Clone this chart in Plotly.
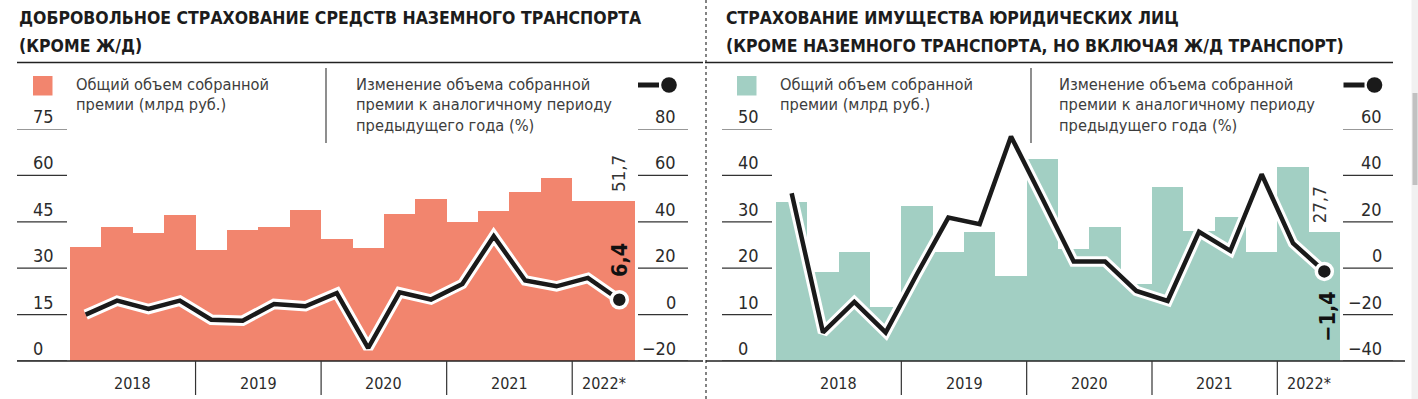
import plotly.graph_objects as go

# ---------------- data ----------------
years = ["2018", "2019", "2020", "2021", "2022*"]
quarters_per_year = [4, 4, 4, 4, 2]

# Left panel: voluntary insurance of ground transport (excl. railway)
ground_premium = [37.0, 43.4, 41.4, 47.3, 35.9, 42.4, 43.4, 48.9, 39.5, 36.4,
                  47.6, 52.4, 44.8, 48.6, 54.7, 59.2, 51.8, 51.7]
ground_change = [0.0, 6.0, 2.4, 6.0, -2.2, -2.6, 4.6, 3.6, 9.3, -14.4,
                 9.6, 6.5, 13.2, 33.8, 14.7, 12.2, 15.8, 6.4]

# Right panel: property insurance of legal entities
property_premium = [34.3, 19.2, 23.5, 11.6, 33.4, 23.5, 27.8, 18.4, 43.5, 24.1,
                    28.9, 16.7, 37.5, 28.0, 31.0, 23.5, 41.8, 27.7]
property_change = [32.3, -27.7, -14.5, -27.7, -2.5, 21.8, 19.0, 56.8, 30.0, 2.9,
                   2.9, -9.8, -14.1, 15.7, 7.5, 40.5, 10.8, -1.4]

left_ticks_bar = [0, 15, 30, 45, 60, 75]
left_ticks_line = [-20, 0, 20, 40, 60, 80]
right_ticks_bar = [0, 10, 20, 30, 40, 50]
right_ticks_line = [-40, -20, 0, 20, 40, 60]

title_left = ["ДОБРОВОЛЬНОЕ СТРАХОВАНИЕ СРЕДСТВ НАЗЕМНОГО ТРАНСПОРТА", "(КРОМЕ Ж/Д)"]
title_right = ["СТРАХОВАНИЕ ИМУЩЕСТВА ЮРИДИЧЕСКИХ ЛИЦ",
               "(КРОМЕ НАЗЕМНОГО ТРАНСПОРТА, НО ВКЛЮЧАЯ Ж/Д ТРАНСПОРТ)"]
legend_bar = ["Общий объем собранной", "премии (млрд руб.)"]
legend_line = ["Изменение объема собранной", "премии к аналогичному периоду",
               "предыдущего года (%)"]

# ---------------- styling ----------------
W, H = 1418, 399
FONT = "DejaVu Sans Condensed, Liberation Sans Narrow, Roboto Condensed, Arial Narrow, Roboto, sans-serif"
SALMON = "#F2856E"
TEAL = "#A2CFC3"
TXT = "#2b2b2b"
LEG = "#3d3d3d"


def px(x):
    return x / W


def py(y):
    return 1 - y / H


def num(v):
    s = ("%g" % v).replace(".", ",")
    return s.replace("-", "\u2212")


n = len(ground_premium)
xs = list(range(n))
ydom = [py(361), py(129)]

fig = go.Figure()

panels = [
    dict(prem=ground_premium, chg=ground_change, color=SALMON, xa="x", ya="y", ya2="y2"),
    dict(prem=property_premium, chg=property_change, color=TEAL, xa="x2", ya="y3", ya2="y4"),
]

for p in panels:
    fig.add_trace(go.Bar(x=xs, y=p["prem"], marker=dict(color=p["color"], line=dict(width=0)),
                         width=1.0, xaxis=p["xa"], yaxis=p["ya"], hoverinfo="skip"))
    fig.add_trace(go.Scatter(x=xs, y=p["chg"], mode="lines",
                             line=dict(color="white", width=10.5),
                             xaxis=p["xa"], yaxis=p["ya2"], hoverinfo="skip"))
    fig.add_trace(go.Scatter(x=xs, y=p["chg"], mode="lines",
                             line=dict(color="#1a1a1a", width=4.5),
                             xaxis=p["xa"], yaxis=p["ya2"], hoverinfo="skip"))
    fig.add_trace(go.Scatter(x=[xs[-1]], y=[p["chg"][-1]], mode="markers",
                             marker=dict(color="#1a1a1a", size=16,
                                         line=dict(color="white", width=3.5)),
                             xaxis=p["xa"], yaxis=p["ya2"], hoverinfo="skip"))

bw_l = (635 - 70) / n
bw_r = (1340 - 776) / n
xl0, xl1 = 17, 703
xr0, xr1 = 705, 1405
fig.update_layout(
    width=W, height=H, margin=dict(l=0, r=0, t=0, b=0),
    paper_bgcolor="white", plot_bgcolor="rgba(0,0,0,0)", showlegend=False,
    bargap=0, barmode="overlay",
    xaxis=dict(domain=[px(xl0), px(xl1)], range=[-0.5 - (70 - xl0) / bw_l, n - 0.5 + (xl1 - 635) / bw_l],
               visible=False, anchor="y"),
    yaxis=dict(domain=ydom, range=[left_ticks_bar[0], left_ticks_bar[-1]], visible=False, anchor="x"),
    yaxis2=dict(overlaying="y", range=[left_ticks_line[0], left_ticks_line[-1]], visible=False, anchor="x"),
    xaxis2=dict(domain=[px(xr0), px(xr1)], range=[-0.5 - (776 - xr0) / bw_r, n - 0.5 + (xr1 - 1340) / bw_r],
                visible=False, anchor="y3"),
    yaxis3=dict(domain=ydom, range=[right_ticks_bar[0], right_ticks_bar[-1]], visible=False, anchor="x2"),
    yaxis4=dict(overlaying="y3", range=[right_ticks_line[0], right_ticks_line[-1]], visible=False, anchor="x2"),
)

shapes = []
ann = []


def text(x, y, s, size=19, color=TXT, xanchor="left", yanchor="middle", bold=False,
         xref="paper", yref="paper", angle=0, yshift=0, xshift=0):
    ann.append(dict(x=x, y=y, xref=xref, yref=yref, text=("<b>%s</b>" % s) if bold else s,
                    showarrow=False, xanchor=xanchor, yanchor=yanchor, textangle=angle,
                    font=dict(family=FONT, size=size, color=color), borderpad=0,
                    yshift=yshift, xshift=xshift))


def hline(x0, x1, y, yref="paper", color="#222", width=1.2):
    shapes.append(dict(type="line", xref="paper", yref=yref, x0=x0, x1=x1, y0=y, y1=y,
                       line=dict(color=color, width=width), layer="above"))


shapes.append(dict(type="line", xref="paper", yref="paper", x0=px(706), x1=px(706), y0=0, y1=1,
                   line=dict(color="#333", width=1.2, dash="dot")))

TITLE_SIZE = 17.5
LEG_SIZE = 16.3
TICK_SIZE = 18
YEAR_SIZE = 16

configs = [
    dict(title=title_left, tx=18, rule=(17, 703), sq=33, color=SALMON, legx=75,
         sep=326, leg2x=355, icon=669, tl_bar=(17, 67), lab_bar=31.5, tl_line=(638, 688),
         lab_line=677, ya="y", ya2="y2", xa="x", tb=left_ticks_bar, tl=left_ticks_line,
         prem=ground_premium, chg=ground_change, base=(17, 703), lab_dx=-1),
    dict(title=title_right, tx=725, rule=(705, 1393), sq=737, color=TEAL, legx=779,
         sep=1031, leg2x=1058, icon=1374.5, tl_bar=(722, 772), lab_bar=737, tl_line=(1343, 1393),
         lab_line=1383, ya="y3", ya2="y4", xa="x2", tb=right_ticks_bar, tl=right_ticks_line,
         prem=property_premium, chg=property_change, base=(706, 1405), lab_dx=-4),
]

for c in configs:
    text(px(c["tx"]), py(18.5), c["title"][0], size=TITLE_SIZE, color="#1c1c1c", bold=True)
    text(px(c["tx"]), py(45.5), c["title"][1], size=TITLE_SIZE, color="#1c1c1c", bold=True)
    hline(px(c["rule"][0]), px(c["rule"][1]), py(62.5), width=1.3)
    shapes.append(dict(type="rect", xref="paper", yref="paper", x0=px(c["sq"]), x1=px(c["sq"] + 19.5),
                       y0=py(95.5), y1=py(76), fillcolor=c["color"], line=dict(width=0)))
    for i, s in enumerate(legend_bar):
        text(px(c["legx"]), py(84.5 + 20.5 * i), s, size=LEG_SIZE, color=LEG)
    shapes.append(dict(type="line", xref="paper", yref="paper", x0=px(c["sep"]), x1=px(c["sep"]),
                       y0=py(68), y1=py(143), line=dict(color="#444", width=1.2)))
    for i, s in enumerate(legend_line):
        text(px(c["leg2x"]), py(84.5 + 20.5 * i), s, size=LEG_SIZE, color=LEG)
    shapes.append(dict(type="line", xref="paper", yref="paper", x0=px(c["icon"] - 31), x1=px(c["icon"] - 10),
                       y0=py(85), y1=py(85), line=dict(color="#1a1a1a", width=5)))
    shapes.append(dict(type="circle", xref="paper", yref="paper", x0=px(c["icon"] - 7.8),
                       x1=px(c["icon"] + 7.8), y0=py(92.8), y1=py(77.2), fillcolor="#1a1a1a",
                       line=dict(width=0)))
    for v in c["tb"]:
        shapes.append(dict(type="line", xref="paper", yref=c["ya"], x0=px(c["tl_bar"][0]),
                           x1=px(c["tl_bar"][1]), y0=v, y1=v, line=dict(color="#333", width=1.2)))
        text(px(c["lab_bar"]), v, num(v), size=TICK_SIZE, yref=c["ya"], yanchor="bottom", yshift=1)
    for v in c["tl"]:
        shapes.append(dict(type="line", xref="paper", yref=c["ya2"], x0=px(c["tl_line"][0]),
                           x1=px(c["tl_line"][1]), y0=v, y1=v, line=dict(color="#333", width=1.2)))
        text(px(c["lab_line"]), v, num(v), size=TICK_SIZE, yref=c["ya2"], yanchor="bottom",
             xanchor="right", yshift=1)
    hline(px(c["base"][0]), px(c["base"][1]), py(361), width=1.3)
    start = 0
    for k, (yr, q) in enumerate(zip(years, quarters_per_year)):
        text((start + (q - 1) / 2), py(383), yr, size=YEAR_SIZE, xref=c["xa"], xanchor="center")
        if k > 0:
            shapes.append(dict(type="line", xref=c["xa"], yref="paper", x0=start - 0.5, x1=start - 0.5,
                               y0=py(361), y1=py(395), line=dict(color="#333", width=1.2)))
        start += q
    text(n - 1, c["prem"][-1], num(c["prem"][-1]), size=18.5, color="#333", xref=c["xa"], yref=c["ya"],
         xanchor="center", yanchor="bottom", angle=-90, yshift=8, xshift=c["lab_dx"])
    last = c["chg"][-1]
    if last >= 0:
        text(n - 1, last, num(last), size=21.5, color="#111", bold=True, xref=c["xa"], yref=c["ya2"],
             xanchor="center", yanchor="bottom", angle=-90, yshift=22)
    else:
        text(n - 1, last, num(last), size=21.5, color="#111", bold=True, xref=c["xa"], yref=c["ya2"],
             xanchor="center", yanchor="top", angle=-90, yshift=-19, xshift=3)

shapes.append(dict(type="rect", xref="paper", yref="paper", x0=px(1411.5), x1=1, y0=0, y1=1,
                   fillcolor="#f1f1f1", line=dict(width=0), layer="below"))
shapes.append(dict(type="rect", xref="paper", yref="paper", x0=px(1412.5), x1=px(1417.5), y0=py(185),
                   y1=py(93), fillcolor="#c1c1c1", line=dict(width=0), layer="below"))

fig.update_layout(shapes=shapes, annotations=ann)
fig.write_html("out.html", config={"displayModeBar": False},
               post_script="document.body.style.margin='0';document.body.style.overflow='hidden';")
